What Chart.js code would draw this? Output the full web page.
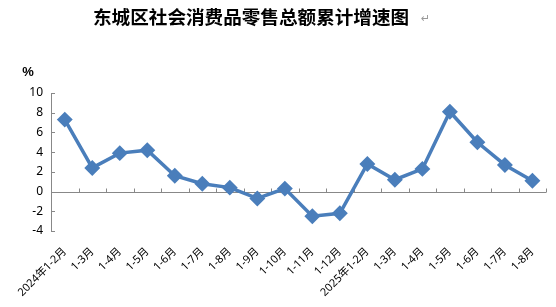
<!DOCTYPE html>
<html>
<head>
<meta charset="utf-8">
<script src="https://cdn.jsdelivr.net/npm/chart.js@4/dist/chart.umd.min.js"></script>
<style>
    html, body { margin: 0; padding: 0; background: #fff; }
    #wrap { width: 556px; height: 307px; }
</style>
</head>
<body>
<div id="wrap"><canvas id="graph" width="556" height="307"></canvas></div>
<script>
// 累计增速 (%)
const titleText = '东城区社会消费品零售总额累计增速图';
const months = ['2024年1-2月', '1-3月', '1-4月', '1-5月', '1-6月', '1-7月', '1-8月', '1-9月', '1-10月',
    '1-11月', '1-12月', '2025年1-2月', '1-3月', '1-4月', '1-5月', '1-6月', '1-7月', '1-8月'];
const growth = [7.3, 2.4, 3.9, 4.2, 1.6, 0.8, 0.4, -0.7, 0.3, -2.5, -2.2, 2.8, 1.2, 2.3, 8.1, 5.0, 2.7, 1.1];
const yMin = -4;
const yMax = 10;
const yStep = 2;

const axisColor = '#888888';

// 제목, %, 0 기준선, 눈금
const decor = {
    id: 'decor',
    beforeDatasetsDraw(chart) {
        const ctx = chart.ctx;
        const area = chart.chartArea;
        const x = chart.scales.x;
        const y = chart.scales.y;
        const y0 = Math.round(y.getPixelForValue(0)) + 0.5;

        ctx.save();
        ctx.strokeStyle = axisColor;
        ctx.lineWidth = 1;

        // 0 line
        ctx.beginPath();
        ctx.moveTo(area.left, y0);
        ctx.lineTo(area.right, y0);
        ctx.stroke();

        // category boundary ticks
        for (let i = 1; i <= months.length; i++) {
            let bx;
            if (i < months.length) {
                bx = (x.getPixelForValue(i - 1) + x.getPixelForValue(i)) / 2;
            } else {
                bx = area.right;
            }
            bx = Math.round(bx) + 0.5;
            ctx.beginPath();
            ctx.moveTo(bx, y0);
            ctx.lineTo(bx, y0 - 4);
            ctx.stroke();
        }

        // y ticks
        y.ticks.forEach(t => {
            const py = Math.round(y.getPixelForValue(t.value)) + 0.5;
            ctx.beginPath();
            ctx.moveTo(area.left, py);
            ctx.lineTo(area.left + 4, py);
            ctx.stroke();
        });

        // title
        ctx.fillStyle = '#000';
        ctx.font = 'bold 18.6px "Noto Sans CJK SC"';
        ctx.textAlign = 'left';
        ctx.textBaseline = 'middle';
        ctx.fillText(titleText, 93, 17);
        const tw = ctx.measureText(titleText).width;
        ctx.fillStyle = '#999';
        ctx.font = '11px "DejaVu Sans"';
        ctx.fillText('↵', 93 + tw + 12, 19);

        // unit
        ctx.fillStyle = '#000';
        ctx.font = 'bold 13px "Liberation Sans"';
        ctx.textAlign = 'center';
        ctx.fillText('%', 28, 72);
        ctx.restore();
    }
};

new Chart(document.getElementById('graph'), {
    type: 'line',
    data: {
        labels: months,
        datasets: [
            {
                label: titleText,
                data: growth,
                borderColor: '#4A7EBB',
                backgroundColor: '#4A7EBB',
                pointBackgroundColor: '#4A7EBB',
                pointBorderColor: '#4A7EBB',
                pointStyle: 'rectRot',
                pointRadius: 5.5,
                borderWidth: 3.5,
                tension: 0
            }
        ]
    },
    options: {
        responsive: false,
        animation: false,
        layout: {
            padding: {top: 93, right: 6, left: 0, bottom: 0}
        },
        plugins: {
            legend: {display: false},
            tooltip: {enabled: false}
        },
        scales: {
            x: {
                offset: true,
                grid: {display: false, drawTicks: false},
                border: {display: false},
                ticks: {
                    autoSkip: false,
                    minRotation: 45,
                    maxRotation: 45,
                    padding: 14,
                    color: '#000',
                    font: {family: '"Noto Sans", "Noto Sans CJK SC"', size: 11}
                },
                afterFit(scale) {
                    scale.height = 76;
                }
            },
            y: {
                min: yMin,
                max: yMax,
                grid: {display: false, drawTicks: false},
                border: {display: true, color: axisColor, width: 1},
                ticks: {
                    stepSize: yStep,
                    padding: 8,
                    color: '#000',
                    font: {family: '"Noto Sans"', size: 12}
                },
                afterFit(scale) {
                    scale.width = 51;
                }
            }
        }
    },
    plugins: [decor]
});
</script>
</body>
</html>
